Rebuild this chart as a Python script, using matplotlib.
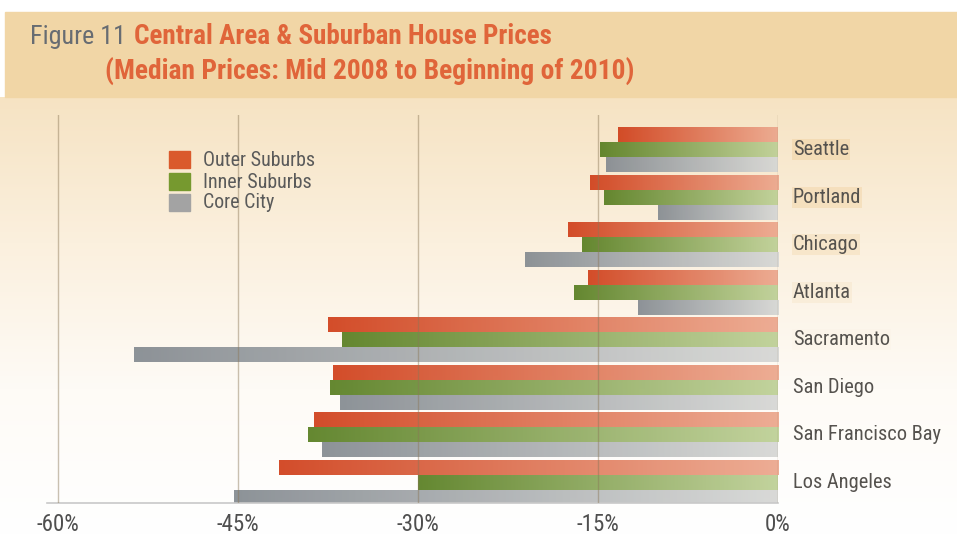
import numpy as np
import matplotlib
matplotlib.use('Agg')
import matplotlib.pyplot as plt
from matplotlib.colors import LinearSegmentedColormap
from matplotlib.patches import Rectangle

plt.rcParams['font.family'] = ['Roboto Condensed', 'Archivo Narrow', 'DejaVu Sans']

# data (percent change in median price, mid 2008 -> beginning 2010)
cities = ['Seattle', 'Portland', 'Chicago', 'Atlanta', 'Sacramento',
          'San Diego', 'San Francisco Bay', 'Los Angeles']
outer = [-13.3, -15.7, -17.5, -15.8, -37.5, -37.1, -38.7, -41.6]
inner = [-14.8, -14.5, -16.3, -17.0, -36.3, -37.3, -39.2, -30.0]
core = [-14.3, -10.0, -21.1, -11.7, -53.7, -36.5, -38.0, -45.3]
series_names = ['Outer Suburbs', 'Inner Suburbs', 'Core City']
ticks = [-60, -45, -30, -15, 0]
tick_labels = ['-60%', '-45%', '-30%', '-15%', '0%']

W, H = 957, 535
fig = plt.figure(figsize=(W / 100, H / 100), dpi=100)

# background: parchment fading to white, plus title banner
bg = fig.add_axes([0, 0, 1, 1], zorder=-10)
bg.set_axis_off()
grad = np.linspace(0, 1, 256).reshape(-1, 1)
bg_cmap = LinearSegmentedColormap.from_list('bg', ['#f6e3c3', '#fbf0de', '#fefbf6', '#ffffff'])
bg.imshow(grad, cmap=bg_cmap, extent=[0, W, H, 97], aspect='auto')
bg.add_patch(Rectangle((5, 12), W, 85, color='#f1d6a6', zorder=2))
bg.set_xlim(0, W)
bg.set_ylim(H, 0)

fig.text(30 / W, 1 - 37 / H, 'Figure 11', color='#676c72', fontsize=18.8, va='center')
fig.text(134 / W, 1 - 37 / H, 'Central Area & Suburban House Prices', color='#e0653a',
         fontsize=19.5, fontweight='bold', va='center')
fig.text(105 / W, 1 - 71 / H, '(Median Prices: Mid 2008 to Beginning of 2010)', color='#e0653a',
         fontsize=19.8, fontweight='bold', va='center')

ax = fig.add_axes([47 / W, 1 - 503 / H, (778 - 47) / W, (503 - 115) / H])
ax.patch.set_alpha(0)

colors = [('#d0401b', '#eca78d'), ('#597f22', '#bed096'), ('#858b91', '#d6d7d5')]
h = 15 / 47.6
offsets = [-h, 0, h]
y = np.arange(len(cities))

for s, vals in enumerate([outer, inner, core]):
    cmap = LinearSegmentedColormap.from_list('c%d' % s, list(colors[s]))
    for i, v in enumerate(vals):
        yc = y[i] + offsets[s]
        ax.imshow(grad.T, cmap=cmap, extent=[v, 0, yc + h / 2, yc - h / 2],
                  aspect='auto', alpha=0.93, zorder=2, interpolation='bicubic')

for t in ticks:
    ax.axvline(t, color='#8a7656', alpha=0.45, lw=1, zorder=3)

ax.set_xlim(-60.92, 0)
ax.set_ylim(7.43, -0.725)
for sp in ['top', 'right', 'left']:
    ax.spines[sp].set_visible(False)
ax.spines['bottom'].set_color('#c9c9c9')
ax.spines['bottom'].set_linewidth(1.2)
ax.set_yticks([])
ax.set_xticks(ticks)
ax.set_xticklabels(tick_labels, fontsize=16.5, color='#4f4f4f')
ax.tick_params(axis='x', length=0, pad=7)

for i, c in enumerate(cities):
    a = max(0.85 - 0.2 * i, 0)
    ax.text(1.25, y[i], c, fontsize=14.7, color='#55524e', va='center', ha='left', clip_on=False,
            bbox=dict(boxstyle='square,pad=0.05', fc='#f3dab2', ec='none', alpha=a))

# legend
sw = ['#da5a2c', '#76992f', '#a3a3a3']
for k, name in enumerate(series_names):
    top = [151, 173, 194][k]
    fig.patches.append(Rectangle((169 / W, 1 - (top + 17) / H), 21 / W, 17 / H,
                                 transform=fig.transFigure, color=sw[k], figure=fig))
    fig.text(203 / W, 1 - (top + 9) / H, name, fontsize=14.4, color='#5a5a5a', va='center')

fig.savefig('out.png', dpi=100)
